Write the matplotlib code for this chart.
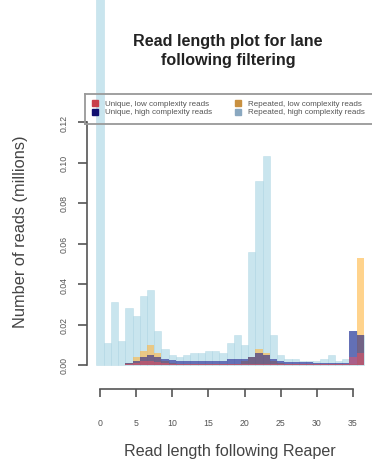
import matplotlib
matplotlib.use("Agg")
import matplotlib.pyplot as plt
from matplotlib.patches import Rectangle
from matplotlib.lines import Line2D
import numpy as np

plt.rcParams['font.family'] = ['Liberation Sans', 'DejaVu Sans']

lengths = list(range(37))
repeated_high = [0.30, 0.011, 0.031, 0.012, 0.028, 0.024, 0.034, 0.037, 0.017, 0.008,
                 0.005, 0.004, 0.005, 0.006, 0.006, 0.007, 0.007, 0.006, 0.011, 0.015,
                 0.010, 0.056, 0.091, 0.103, 0.015, 0.005, 0.003, 0.003, 0.002, 0.002,
                 0.002, 0.003, 0.005, 0.002, 0.003, 0.017, 0.015]
repeated_low = [0, 0, 0, 0, 0.001, 0.004, 0.007, 0.010, 0.006, 0.002,
                0.001, 0.0005, 0.0005, 0.0005, 0.0005, 0.0005, 0.0005, 0.0005, 0.0005, 0.0005,
                0.002, 0.004, 0.008, 0.006, 0.002, 0.001, 0.0005, 0.0005, 0.0005, 0.0005,
                0.0005, 0.0005, 0.0005, 0.0005, 0.0005, 0.0005, 0.053]
unique_high = [0, 0, 0, 0, 0.001, 0.002, 0.004, 0.005, 0.004, 0.003,
               0.0025, 0.002, 0.002, 0.002, 0.002, 0.002, 0.002, 0.002, 0.003, 0.003,
               0.003, 0.004, 0.006, 0.005, 0.003, 0.002, 0.0015, 0.0015, 0.0015, 0.0015,
               0.0012, 0.0012, 0.0012, 0.0012, 0.0012, 0.017, 0.015]
unique_low = [0, 0, 0, 0, 0.0005, 0.001, 0.002, 0.002, 0.0015, 0.001,
              0.0003, 0.0003, 0.0003, 0.0003, 0.0003, 0.0003, 0.0003, 0.0003, 0.0003, 0.0003,
              0.0003, 0.0003, 0.0003, 0.0003, 0.0003, 0.0003, 0.0003, 0.0003, 0.0003, 0.0003,
              0.0003, 0.0003, 0.0003, 0.0003, 0.0003, 0.004, 0.006]

series_labels = ["Unique, low complexity reads", "Unique, high complexity reads",
                 "Repeated, low complexity reads", "Repeated, high complexity reads"]
xticks = [0, 5, 10, 15, 20, 25, 30, 35]
yticks = [0.00, 0.02, 0.04, 0.06, 0.08, 0.10, 0.12]

W, H = 372, 464
fig = plt.figure(figsize=(W / 100, H / 100), dpi=100)

def fx(px):
    return px / W

def fy(py):
    return 1 - py / H

ax = fig.add_axes([fx(87), fy(390), (372 - 87) / W, (390 - 123) / H])
ax.set_facecolor('none')

c_lb = '#ADD8E6'
c_or = '#FFB640'
c_nv = '#101088'
c_rd = '#F25060'

bars = ax.bar(lengths, repeated_high, width=1.0, color=c_lb, alpha=0.65,
              edgecolor='#A8D2E0', linewidth=0.4)
bars[0].set_clip_on(False)
ax.bar(lengths, repeated_low, width=1.0, color=c_or, alpha=0.6, linewidth=0)
ax.bar(lengths, unique_high, width=1.0, color=c_nv, alpha=0.55, linewidth=0)
ax.bar(lengths, unique_low, width=1.0, color=c_rd, alpha=0.5, linewidth=0)

ppu = (353 - 100) / 35.0
ax.set_xlim((87 - 100) / ppu, (372 - 100) / ppu)
ax.set_ylim(-24 / 243 * 0.12, 0.12)

for s in ['top', 'right']:
    ax.spines[s].set_visible(False)
for s in ['left', 'bottom']:
    ax.spines[s].set_color('#555555')
    ax.spines[s].set_linewidth(1.2)
ax.spines['left'].set_bounds(0, 0.12)
ax.spines['bottom'].set_bounds(0, 35)

ax.set_xticks(xticks)
ax.set_xticklabels([str(t) for t in xticks])
ax.set_yticks(yticks)
ax.set_yticklabels([f"{t:.2f}" for t in yticks], rotation=90, va='center')
ax.tick_params(axis='y', length=6.5, width=1.2, color='#555555', pad=7,
               labelsize=6.3, labelcolor='#555555')
ax.tick_params(axis='x', length=6, width=1.2, color='#555555', pad=15,
               labelsize=6.3, labelcolor='#555555')

fig.text(fx(230), fy(452), "Read length following Reaper", ha='center', va='center',
         fontsize=11.6, color='#444444')
fig.text(fx(21), fy(232), "Number of reads (millions)", ha='center', va='center',
         rotation=90, fontsize=11.8, color='#444444')
fig.text(fx(228), fy(51), "Read length plot for lane\nfollowing filtering", ha='center',
         va='center', fontsize=11.6, fontweight='bold', color='#222222', linespacing=1.3)

# legend box
lc = '#999999'
fig.add_artist(Line2D([fx(85), fx(372)], [fy(95), fy(95)], color=lc, lw=1.3))
fig.add_artist(Line2D([fx(85), fx(372)], [fy(125), fy(125)], color=lc, lw=1.3))
fig.add_artist(Line2D([fx(85), fx(85)], [fy(95), fy(125)], color=lc, lw=1.3))

leg_colors = ['#C8404C', '#101070', '#C89040', '#8AA8C0']
leg_pos = [(95, 104), (95, 113), (238, 104), (238, 113)]
for lab, col, (px, py) in zip(series_labels, leg_colors, leg_pos):
    fig.add_artist(Rectangle((fx(px - 3), fy(py + 3)), 6 / W, 6 / H, color=col,
                             transform=fig.transFigure))
    fig.text(fx(px + 10), fy(py), lab, ha='left', va='center', fontsize=5.8, color='#555555')

fig.savefig("out.png", dpi=100)
